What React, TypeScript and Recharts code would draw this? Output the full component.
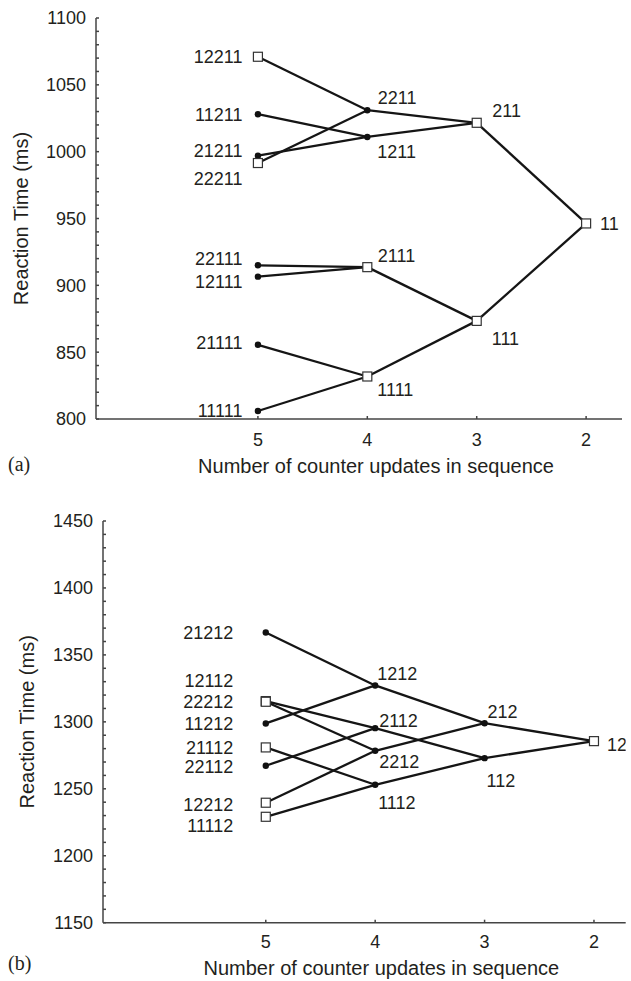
import React from "react"
import { ComposedChart, Line, Scatter, XAxis, YAxis } from "recharts"

// (a) sequences ending in 1 — mean RT per sequence
const seqA = ["12211", "11211", "21211", "22211", "22111", "12111", "21111", "11111",
  "2211", "1211", "2111", "1111", "211", "111", "11"]
const rtA = [1071, 1028, 997, 991.5, 915, 906.5, 855.5, 806,
  1031, 1011, 913.6, 831.8, 1021.6, 873.4, 946.3]
const squaresA = ["12211", "22211", "2111", "1111", "211", "111", "11"]
const yTicksA = [800, 850, 900, 950, 1000, 1050, 1100]

// (b) sequences ending in 2
const seqB = ["21212", "12112", "22212", "11212", "21112", "22112", "12212", "11112",
  "1212", "2112", "2212", "1112", "212", "112", "12"]
const rtB = [1366.7, 1315.5, 1315, 1298.8, 1280.9, 1267.2, 1239.6, 1229.1,
  1327.2, 1295.3, 1278.4, 1253, 1299, 1272.9, 1285.6]
const squaresB = ["12112", "22212", "21112", "12212", "11112", "12"]
const yTicksB = [1150, 1200, 1250, 1300, 1350, 1400, 1450]

const xTicks = [5, 4, 3, 2]

// label nudges [dx, dy] relative to the marker
const nudgeA: Record<string, [number, number]> = {
  "12211": [-15.5, 0], "11211": [-15.5, 0], "21211": [-15.5, -5], "22211": [-15.5, 15],
  "22111": [-15.5, -7], "12111": [-15.5, 5], "21111": [-15.5, -2], "11111": [-15.5, 0],
  "2211": [10.5, -13], "1211": [10, 15], "2111": [10.5, -12], "1111": [10, 13],
  "211": [15.5, -12], "111": [15, 18], "11": [14, 0],
}
const nudgeB: Record<string, [number, number]> = {
  "21212": [-32.5, 0], "12112": [-32.5, -21], "22212": [-32.5, 0], "11212": [-32.5, 0],
  "21112": [-32.5, 0], "22112": [-32.5, 1], "12212": [-32.5, 2], "11112": [-32.5, 9],
  "1212": [2, -12], "2112": [4, -8], "2212": [4, 11], "1112": [3, 18],
  "212": [3, -12], "112": [2, 22], "12": [13, 3],
}

const FONT = "'Liberation Sans', Arial, Helvetica, sans-serif"
const INK = "#231f20"
const AXIS = "#444"

function withMinor(ticks: number[]) {
  const out: number[] = []
  ticks.forEach((t, i) => {
    out.push(t)
    const next = ticks[i + 1]
    if (next !== undefined) {
      const step = (next - t) / 5
      for (let k = 1; k < 5; k++) out.push(t + k * step)
    }
  })
  return out
}

type PanelProps = {
  seq: string[]
  rt: number[]
  squares: string[]
  yTicks: number[]
  nudge: Record<string, [number, number]>
  height: number
  margin: { top: number; right: number; bottom: number; left: number }
  yAxisWidth: number
  xDomain: [number, number]
  yTitleX: number
  xTickMargin: number
  xTitleDy: number
}

function Panel(p: PanelProps) {
  const nodes = p.seq.map((s, i) => ({ name: s, x: s.length, y: p.rt[i] }))
  const byName = new Map(nodes.map((n) => [n.name, n]))
  const edges = nodes
    .filter((n) => byName.has(n.name.slice(1)))
    .map((n) => {
      const parent = byName.get(n.name.slice(1))!
      return { key: n.name, data: [{ x: n.x, y: n.y }, { x: parent.x, y: parent.y }] }
    })

  const NodeMark = (props: any) => {
    const { cx, cy, payload } = props
    if (cx == null || cy == null) return null
    const [dx, dy] = p.nudge[payload.name] ?? [0, 0]
    const isSquare = p.squares.includes(payload.name)
    return (
      <g>
        {isSquare ? (
          <rect x={cx - 4.5} y={cy - 4.5} width={9} height={9} fill="#fff" stroke="#333" strokeWidth={1.2} />
        ) : (
          <circle cx={cx} cy={cy} r={3.2} fill="#111" />
        )}
        <text
          x={cx + dx}
          y={cy + dy}
          dy="0.36em"
          textAnchor={dx < 0 ? "end" : "start"}
          fontSize={18}
          fontFamily={FONT}
          fill={INK}
        >
          {payload.name}
        </text>
      </g>
    )
  }

  const YTick = (props: any) => {
    const { x, y, payload } = props
    if (payload.value % 50 !== 0) return null
    return (
      <text x={x} y={y} dy="0.36em" textAnchor="end" fontSize={18} fontFamily={FONT} fill={INK}>
        {payload.value}
      </text>
    )
  }

  const YTitle = (props: any) => {
    const vb = props.viewBox
    const cy = vb.y + vb.height / 2
    return (
      <text
        x={p.yTitleX}
        y={cy}
        dy="0.36em"
        textAnchor="middle"
        transform={`rotate(-90, ${p.yTitleX}, ${cy})`}
        fontSize={20}
        fontFamily={FONT}
        fill={INK}
      >
        Reaction Time (ms)
      </text>
    )
  }

  const XTitle = (props: any) => {
    const vb = props.viewBox
    return (
      <text
        x={vb.x + vb.width / 2 + 17}
        y={vb.y + p.xTitleDy}
        dy="0.36em"
        textAnchor="middle"
        fontSize={20}
        fontFamily={FONT}
        fill={INK}
      >
        Number of counter updates in sequence
      </text>
    )
  }

  return (
    <ComposedChart width={631} height={p.height} margin={p.margin}>
      <XAxis
        type="number"
        dataKey="x"
        domain={p.xDomain}
        allowDataOverflow
        reversed
        ticks={xTicks}
        interval={0}
        height={30}
        tickSize={-3}
        tickMargin={p.xTickMargin}
        stroke={AXIS}
        strokeWidth={1.5}
        tick={{ fontSize: 18, fontFamily: FONT, fill: INK }}
        label={{ content: XTitle }}
      />
      <YAxis
        type="number"
        dataKey="y"
        domain={[p.yTicks[0], p.yTicks[p.yTicks.length - 1]]}
        allowDataOverflow
        ticks={withMinor(p.yTicks)}
        interval={0}
        width={p.yAxisWidth}
        tickSize={-3}
        tickMargin={13}
        stroke={AXIS}
        strokeWidth={1.5}
        tick={YTick}
        label={{ content: YTitle }}
      />
      {edges.map((e) => (
        <Line
          key={e.key}
          data={e.data}
          dataKey="y"
          stroke="#151515"
          strokeWidth={2.3}
          dot={false}
          activeDot={false}
          isAnimationActive={false}
        />
      ))}
      <Scatter data={nodes} dataKey="y" shape={NodeMark} isAnimationActive={false} />
    </ComposedChart>
  )
}

export default function App() {
  const letter: React.CSSProperties = {
    position: "absolute",
    left: 8,
    fontFamily: "'Liberation Serif', 'Times New Roman', serif",
    fontSize: 20,
    color: INK,
    lineHeight: "20px",
  }
  return (
    <div style={{ position: "absolute", left: 0, top: 0, width: 631, height: 981, background: "#fff" }}>
      <div style={{ position: "absolute", left: 0, top: 0 }}>
        <Panel
          seq={seqA}
          rt={rtA}
          squares={squaresA}
          yTicks={yTicksA}
          nudge={nudgeA}
          height={490}
          margin={{ top: 18, right: 9, bottom: 41, left: 0 }}
          yAxisWidth={96}
          xDomain={[1.672, 6.48]}
          yTitleX={21}
          xTickMargin={17}
          xTitleDy={47}
        />
      </div>
      <div style={{ ...letter, top: 454 }}>(a)</div>
      <div style={{ position: "absolute", left: 0, top: 490 }}>
        <Panel
          seq={seqB}
          rt={rtB}
          squares={squaresB}
          yTicks={yTicksB}
          nudge={nudgeB}
          height={491}
          margin={{ top: 31, right: 5.3, bottom: 28.3, left: 0 }}
          yAxisWidth={103}
          xDomain={[1.71, 6.488]}
          yTitleX={26.5}
          xTickMargin={16}
          xTitleDy={45}
        />
      </div>
      <div style={{ ...letter, top: 953 }}>(b)</div>
    </div>
  )
}
